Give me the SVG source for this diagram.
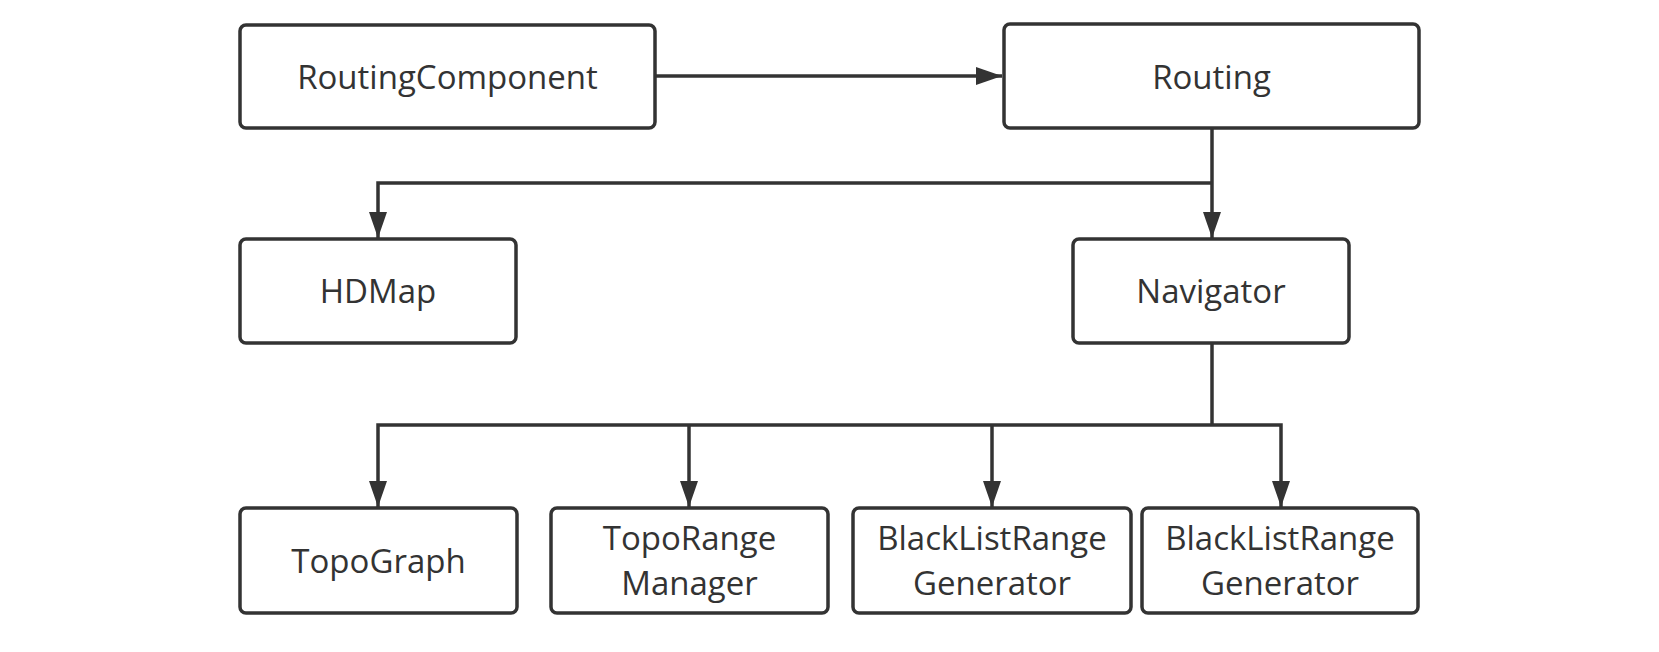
<svg xmlns="http://www.w3.org/2000/svg" width="1659" height="652" viewBox="0 0 1659 652">
<defs>
<marker id="ah" markerUnits="userSpaceOnUse" markerWidth="26" markerHeight="20" viewBox="0 0 26 20" refX="26" refY="10" orient="auto">
<path d="M0,1 L26,10 L0,19 Z" fill="#333"/>
</marker>
<style>
.box{fill:#fff;stroke:#333;stroke-width:3.5}
.lbl{font-family:"Open Sans","Noto Sans",sans-serif;font-size:33px;fill:#333;text-anchor:middle}
.con{fill:none;stroke:#333;stroke-width:3.5}
</style>
</defs>
<rect width="1659" height="652" fill="#fff"/>
<g id="connectors">
<path class="con" d="M656,76 L1002,76" marker-end="url(#ah)"/>
<path class="con" d="M1212,128 L1212,238" marker-end="url(#ah)"/>
<path class="con" d="M1212,183 L378,183 L378,238" marker-end="url(#ah)"/>
<path class="con" d="M1212,343 L1212,425"/>
<path class="con" d="M1212,425 L378,425 L378,507" marker-end="url(#ah)"/>
<path class="con" d="M689,425 L689,507" marker-end="url(#ah)"/>
<path class="con" d="M992,425 L992,507" marker-end="url(#ah)"/>
<path class="con" d="M1212,425 L1281,425 L1281,507" marker-end="url(#ah)"/>
</g>
<g id="RoutingComponent"><rect class="box" x="240" y="25" width="415" height="103" rx="6"/><text class="lbl" x="447.5" y="89">RoutingComponent</text></g>
<g id="Routing"><rect class="box" x="1004" y="24" width="415" height="104" rx="6"/><text class="lbl" x="1211.5" y="89">Routing</text></g>
<g id="HDMap"><rect class="box" x="240" y="239" width="276" height="104" rx="6"/><text class="lbl" x="378" y="303">HDMap</text></g>
<g id="Navigator"><rect class="box" x="1073" y="239" width="276" height="104" rx="6"/><text class="lbl" x="1211" y="303">Navigator</text></g>
<g id="TopoGraph"><rect class="box" x="240" y="508" width="277" height="105" rx="6"/><text class="lbl" x="378.5" y="573">TopoGraph</text></g>
<g id="TopoRangeManager"><rect class="box" x="551" y="508" width="277" height="105" rx="6"/><text class="lbl" x="689.5" y="550">TopoRange</text><text class="lbl" x="689.5" y="595">Manager</text></g>
<g id="BlackListRangeGenerator1"><rect class="box" x="853" y="508" width="278" height="105" rx="6"/><text class="lbl" x="992" y="550">BlackListRange</text><text class="lbl" x="992" y="595">Generator</text></g>
<g id="BlackListRangeGenerator2"><rect class="box" x="1142" y="508" width="276" height="105" rx="6"/><text class="lbl" x="1280" y="550">BlackListRange</text><text class="lbl" x="1280" y="595">Generator</text></g>
</svg>
